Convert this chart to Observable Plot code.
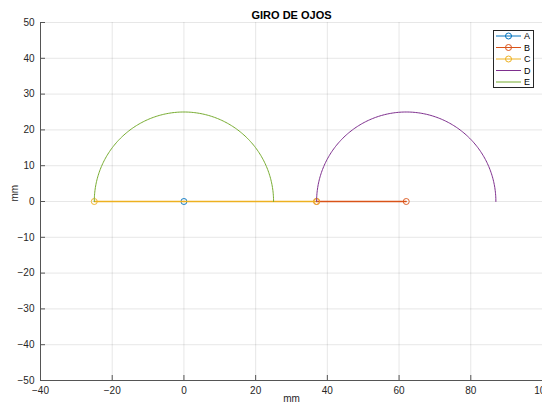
<!DOCTYPE html>
<html><head><meta charset="utf-8">
<script src="https://cdn.jsdelivr.net/npm/d3@7"></script>
<script src="https://cdn.jsdelivr.net/npm/@observablehq/plot@0.6"></script>
<style>
body{margin:0;background:#fff}
#chart{position:relative;width:542px;height:406px;font-family:"Liberation Sans",Arial,Helvetica,sans-serif}
#legend{position:absolute;left:493px;top:30px}
</style>
</head><body><div id="chart"></div>
<script>
const title = "GIRO DE OJOS";
const xLabel = "mm";
const yLabel = "mm";
const xTicks = [-40, -20, 0, 20, 40, 60, 80, 100];
const yTicks = [-50, -40, -30, -20, -10, 0, 10, 20, 30, 40, 50];
const seriesNames = ["A", "B", "C", "D", "E"];
const seriesColors = ["#0072BD", "#D95319", "#EDB120", "#7E2F8E", "#77AC30"];
const seriesMarkers = [true, true, true, false, false];

// A: single point
const A_x = [0];
const A_y = [0];
// B: segment
const B_x = [37, 62];
const B_y = [0, 0];
// C: segment
const C_x = [-25, 37];
const C_y = [0, 0];
// D, E: upper semicircles (center, radius)
const D_center = [62, 0];
const D_radius = 25;
const E_center = [0, 0];
const E_radius = 25;

function semicircle(c, r) {
  const pts = [];
  for (let deg = 0; deg <= 180; deg += 1) {
    const t = deg * Math.PI / 180;
    pts.push({x: c[0] + r * Math.cos(t), y: c[1] + r * Math.sin(t)});
  }
  return pts;
}
const zip = (xs, ys) => xs.map((x, i) => ({x, y: ys[i]}));

const A = zip(A_x, A_y), B = zip(B_x, B_y), C = zip(C_x, C_y);
const D = semicircle(D_center, D_radius), E = semicircle(E_center, E_radius);

const W = 542, H = 406, mT = 22, mB = 26, mL = 40, mR = 0;
const frameH = H - mT - mB;
const textColor = "#262626";

const chart = Plot.plot({
  width: W, height: H,
  marginTop: mT, marginBottom: mB, marginLeft: mL, marginRight: mR,
  style: {fontFamily: '"Liberation Sans", Arial, Helvetica, sans-serif', fontSize: "10px", color: textColor, background: "#fff", overflow: "visible"},
  x: {domain: [-40, 100], ticks: xTicks},
  y: {domain: [-50, 50], ticks: yTicks},
  marks: [
    Plot.ruleX(xTicks, {stroke: "#262626", strokeOpacity: 0.11}),
    Plot.ruleY(yTicks, {stroke: "#262626", strokeOpacity: 0.11}),
    Plot.tickX(xTicks, {x: d => d, insetTop: frameH - 5, stroke: "#555"}),
    Plot.tickY(yTicks, {y: d => d, insetRight: W - mL - mR - 5, stroke: "#555"}),
    Plot.ruleX([-40], {stroke: "#555"}),
    Plot.ruleY([-50], {stroke: "#555"}),
    Plot.axisX(xTicks, {tickSize: 0, tickPadding: 6, label: null, fill: textColor, fontSize: 10}),
    Plot.axisY(yTicks, {tickSize: 0, tickPadding: 6, label: null, fill: textColor, fontSize: 10}),
    Plot.dot(A, {x: "x", y: "y", r: 3, stroke: seriesColors[0], fill: "none", strokeWidth: 0.9}),
    Plot.line(B, {x: "x", y: "y", stroke: seriesColors[1], strokeWidth: 1.3}),
    Plot.dot(B, {x: "x", y: "y", r: 3, stroke: seriesColors[1], fill: "none", strokeWidth: 0.9}),
    Plot.line(C, {x: "x", y: "y", stroke: seriesColors[2], strokeWidth: 1.3}),
    Plot.dot(C, {x: "x", y: "y", r: 3, stroke: seriesColors[2], fill: "none", strokeWidth: 0.9}),
    Plot.line(D, {x: "x", y: "y", stroke: seriesColors[3], strokeWidth: 1}),
    Plot.line(E, {x: "x", y: "y", stroke: seriesColors[4], strokeWidth: 1}),
    Plot.text([title], {frameAnchor: "top", dy: -11, fontWeight: "bold", fontSize: 11, fill: "#000"}),
    Plot.text([xLabel], {frameAnchor: "bottom", dy: 21, fontSize: 10, fill: textColor}),
    Plot.text([yLabel], {frameAnchor: "left", dx: -26, rotate: -90, fontSize: 10, fill: textColor})
  ]
});
document.getElementById("chart").appendChild(chart);

// legend
const lg = d3.select("#chart").append("svg").attr("id", "legend")
  .attr("width", 41).attr("height", 58);
lg.append("rect").attr("x", 0.5).attr("y", 0.5).attr("width", 40).attr("height", 57)
  .attr("fill", "#fff").attr("stroke", "#262626").attr("stroke-width", 1);
seriesNames.forEach((name, i) => {
  const yy = 6 + i * 11.5;
  lg.append("line").attr("x1", 3).attr("x2", 28).attr("y1", yy).attr("y2", yy)
    .attr("stroke", seriesColors[i]).attr("stroke-width", 1);
  if (seriesMarkers[i]) lg.append("circle").attr("cx", 15.5).attr("cy", yy).attr("r", 3)
    .attr("fill", "none").attr("stroke", seriesColors[i]);
  lg.append("text").attr("x", 31).attr("y", yy).attr("dy", "0.35em")
    .attr("font-size", 9).attr("fill", "#000")
    .attr("font-family", '"Liberation Sans", Arial, sans-serif').text(name);
});
</script>
</body></html>
